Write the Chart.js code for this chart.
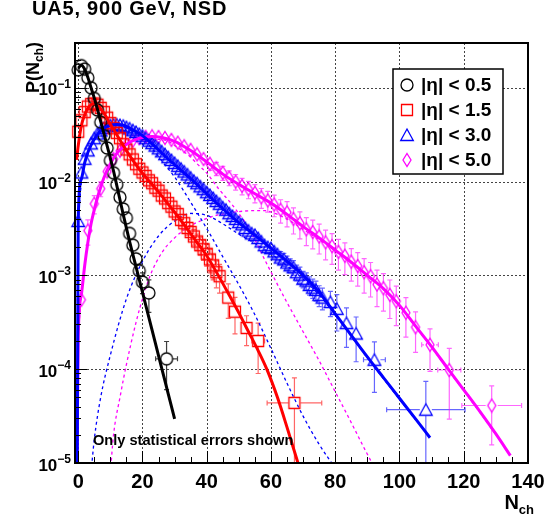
<!DOCTYPE html>
<html>
<head>
<meta charset="utf-8">
<title>UA5 900 GeV NSD multiplicity</title>
<script src="https://cdn.jsdelivr.net/npm/chart.js@4.4.1/dist/chart.umd.min.js"></script>
<style>
  html, body { margin: 0; padding: 0; background: #ffffff; }
  #nchChart { display: block; }
</style>
</head>
<body>
<canvas id="nchChart" width="556" height="516"></canvas>
<script>
// ---- axis ticks ----
const xTickValues = [0, 20, 40, 60, 80, 100, 120, 140];
const xTickLabels = ['0', '20', '40', '60', '80', '100', '120', '140'];
const yTickValues = [1e-5, 1e-4, 1e-3, 1e-2, 1e-1];
const yTickExponents = ['\u22125', '\u22124', '\u22123', '\u22122', '\u22121'];
const seriesLabels = ['|\u03b7| < 0.5', '|\u03b7| < 1.5', '|\u03b7| < 3.0', '|\u03b7| < 5.0'];

// ---- data points (N_ch, P, relative stat. error, half bin width) ----
const blackN = [0, 1, 2, 3, 4, 5, 6, 7, 8, 9, 10, 11, 12, 13, 14, 15, 16, 17, 18, 19, 20, 22, 27.5];
const blackP = [0.155, 0.172, 0.158, 0.128, 0.100, 0.077, 0.058, 0.043, 0.031, 0.0228, 0.0168, 0.0124, 0.0093,
  0.0068, 0.0051, 0.0041, 0.0028, 0.0021, 0.0015, 0.00112, 0.00085, 0.00065, 0.000129];
const blackRelErr = [0.01, 0.01, 0.01, 0.01, 0.01, 0.015, 0.015, 0.02, 0.02, 0.025, 0.03, 0.035, 0.04,
  0.05, 0.06, 0.07, 0.09, 0.11, 0.14, 0.17, 0.25, 0.38, 0.53];
const blackXErr = [0.5, 0.5, 0.5, 0.5, 0.5, 0.5, 0.5, 0.5, 0.5, 0.5, 0.5, 0.5, 0.5, 0.5, 0.5, 0.5, 0.5, 0.5,
  0.5, 0.5, 0.5, 1, 3.4];

const redN = [0, 1, 2, 3, 4, 5, 6, 7, 8, 9, 10, 11, 12, 13, 14, 15, 16, 17, 18, 19, 20, 21, 22, 23, 24, 25,
  26, 27, 28, 29, 30, 31, 32, 33, 34, 35, 36, 37, 38, 39, 40, 41, 42, 43, 44, 46.7, 48.8, 52.4, 56, 67.3];
const redP = [0.034, 0.045, 0.055, 0.063, 0.067, 0.068, 0.066, 0.061, 0.055, 0.048,
  0.042, 0.037, 0.033, 0.029, 0.025, 0.022, 0.0195, 0.0172, 0.0153, 0.0137,
  0.0125, 0.0115, 0.0103, 0.0096, 0.0086, 0.0080, 0.0071, 0.0066, 0.0059, 0.0054,
  0.0048, 0.0045, 0.0039, 0.0036, 0.0032, 0.0029, 0.0026, 0.0023, 0.0021, 0.0019,
  0.0017, 0.00148, 0.00128, 0.00108, 0.00098, 0.00058, 0.00041, 0.000275, 0.0002, 0.0000437];
const redRelErr = [0.015, 0.015, 0.015, 0.015, 0.015, 0.015, 0.015, 0.015, 0.015, 0.015,
  0.02, 0.02, 0.02, 0.025, 0.025, 0.03, 0.03, 0.035, 0.04, 0.045,
  0.05, 0.055, 0.06, 0.065, 0.07, 0.08, 0.085, 0.09, 0.1, 0.11,
  0.12, 0.13, 0.14, 0.15, 0.16, 0.17, 0.19, 0.2, 0.22, 0.24,
  0.26, 0.28, 0.3, 0.32, 0.34, 0.4, 0.42, 0.35, 0.55, 0.85];
const redXErr = [0.5, 0.5, 0.5, 0.5, 0.5, 0.5, 0.5, 0.5, 0.5, 0.5, 0.5, 0.5, 0.5, 0.5, 0.5, 0.5, 0.5, 0.5,
  0.5, 0.5, 0.5, 0.5, 0.5, 0.5, 0.5, 0.5, 0.5, 0.5, 0.5, 0.5, 0.5, 0.5, 0.5, 0.5, 0.5, 0.5, 0.5, 0.5, 0.5,
  0.5, 0.5, 0.5, 0.5, 0.5, 0.5, 1, 1, 1.8, 2, 8.5];

const blueN = [0, 1, 2, 3, 4, 5, 6, 7, 8, 9, 10, 11, 12, 13, 14, 15, 16, 17, 18, 19, 20, 21, 22, 23, 24, 25,
  26, 27, 28, 29, 30, 31, 32, 33, 34, 35, 36, 37, 38, 39, 40, 41, 42, 43, 44, 45, 46, 47, 48, 49, 50, 51,
  52, 53, 54, 55, 56, 57, 58, 59, 60, 61, 62, 63, 64, 65, 66, 67, 68, 69, 70, 71, 72, 73, 74, 75, 76,
  78.5, 80.5, 83.5, 86.5, 92.2, 108.2];
const blueP = [0.0038, 0.0125, 0.0175, 0.0215, 0.0255, 0.0290, 0.0325, 0.0350, 0.0372, 0.0388,
  0.0398, 0.0405, 0.0405, 0.0400, 0.0393, 0.0380, 0.0368, 0.0352, 0.0338, 0.0322,
  0.0308, 0.0290, 0.0273, 0.0257, 0.0242, 0.0226, 0.0210, 0.0196, 0.0182, 0.0170,
  0.0158, 0.0147, 0.0137, 0.0128, 0.0119, 0.0110, 0.0102, 0.0096, 0.0089, 0.0083,
  0.0077, 0.0072, 0.0067, 0.0062, 0.0058, 0.0053, 0.0050, 0.0046, 0.0043, 0.0040,
  0.0037, 0.0035, 0.0032, 0.0030, 0.0028, 0.0027, 0.0025, 0.0023, 0.0021, 0.0020,
  0.00195, 0.0018, 0.00168, 0.00155, 0.00148, 0.00137, 0.00128, 0.00122, 0.00108, 0.00102,
  0.00092, 0.00088, 0.00079, 0.00074, 0.00070, 0.00062, 0.00058,
  0.00052, 0.00044, 0.00031, 0.00024, 0.000126, 0.000037];
const blueRelErr = [0.05, 0.03, 0.02, 0.02, 0.02, 0.02, 0.02, 0.02, 0.02, 0.02,
  0.02, 0.02, 0.02, 0.02, 0.02, 0.02, 0.02, 0.02, 0.02, 0.02,
  0.025, 0.025, 0.025, 0.03, 0.03, 0.03, 0.03, 0.035, 0.035, 0.035,
  0.04, 0.04, 0.04, 0.045, 0.045, 0.045, 0.05, 0.05, 0.05, 0.055,
  0.055, 0.06, 0.06, 0.065, 0.065, 0.07, 0.075, 0.08, 0.085, 0.09,
  0.09, 0.1, 0.1, 0.11, 0.11, 0.12, 0.12, 0.13, 0.13, 0.14,
  0.14, 0.15, 0.15, 0.16, 0.16, 0.17, 0.17, 0.18, 0.19, 0.2,
  0.2, 0.21, 0.22, 0.23, 0.24, 0.25, 0.26,
  0.3, 0.42, 0.45, 0.5, 0.55, 1.0];
const blueXErr = [0.5, 0.5, 0.5, 0.5, 0.5, 0.5, 0.5, 0.5, 0.5, 0.5, 0.5, 0.5, 0.5, 0.5, 0.5, 0.5, 0.5, 0.5,
  0.5, 0.5, 0.5, 0.5, 0.5, 0.5, 0.5, 0.5, 0.5, 0.5, 0.5, 0.5, 0.5, 0.5, 0.5, 0.5, 0.5, 0.5, 0.5, 0.5, 0.5,
  0.5, 0.5, 0.5, 0.5, 0.5, 0.5, 0.5, 0.5, 0.5, 0.5, 0.5, 0.5, 0.5, 0.5, 0.5, 0.5, 0.5, 0.5, 0.5, 0.5, 0.5,
  0.5, 0.5, 0.5, 0.5, 0.5, 0.5, 0.5, 0.5, 0.5, 0.5, 0.5, 0.5, 0.5, 0.5, 0.5, 0.5, 0.5,
  1, 1, 1.5, 1.5, 3.4, 12.2];

const magentaN = [1, 3, 5, 7, 9, 11, 13, 15, 17, 19, 21, 23, 25, 27, 29, 31, 33, 35, 37, 39, 41, 43, 45, 47,
  49, 51, 53, 55, 57, 59, 61, 63, 65, 67, 69, 71, 73, 75, 77, 79, 81, 83, 85, 87, 89, 91, 93, 95, 97, 99,
  102, 105, 109.5, 115.5, 128.7];
const magentaP = [0.00055, 0.0030, 0.0058, 0.0084, 0.0128, 0.0174, 0.0213, 0.0247, 0.0273, 0.0290,
  0.0300, 0.0304, 0.0299, 0.0292, 0.0278, 0.0260, 0.0238, 0.0218, 0.0195, 0.0174,
  0.0155, 0.0138, 0.0124, 0.0110, 0.0100, 0.0090, 0.0083, 0.0076, 0.0068, 0.0063,
  0.0057, 0.0050, 0.0047, 0.0040, 0.0036, 0.0031, 0.0029, 0.0026, 0.00225, 0.00205,
  0.00178, 0.00162, 0.00140, 0.00126, 0.00108, 0.00098, 0.00080, 0.00073, 0.00062, 0.00053,
  0.00040, 0.00028, 0.000182, 0.000098, 0.000041];
const magentaRelErr = [0.08, 0.3, 0.22, 0.18, 0.12, 0.1, 0.08, 0.07, 0.06, 0.06,
  0.06, 0.06, 0.06, 0.07, 0.08, 0.09, 0.1, 0.11, 0.12, 0.13,
  0.15, 0.16, 0.17, 0.18, 0.19, 0.2, 0.21, 0.22, 0.24, 0.25,
  0.26, 0.28, 0.3, 0.31, 0.32, 0.33, 0.34, 0.35, 0.35, 0.36,
  0.36, 0.37, 0.38, 0.39, 0.4, 0.4, 0.42, 0.43, 0.44, 0.45,
  0.45, 0.46, 0.48, 0.7, 0.62];
const magentaXErr = [1, 1, 1, 1, 1, 1, 1, 1, 1, 1, 1, 1, 1, 1, 1, 1, 1, 1, 1, 1, 1, 1, 1, 1, 1,
  1, 1, 1, 1, 1, 1, 1, 1, 1, 1, 1, 1, 1, 1, 1, 1, 1, 1, 1, 1, 1, 1, 1, 1, 1,
  1.5, 1.5, 2.6, 3.6, 9.3];

// ---- fitted curves (solid) ----
const blackFitN = [0, 1, 2, 3, 4, 5, 6, 7, 8, 9, 10, 11, 12, 14, 16, 18, 20, 22, 24, 26, 28, 30];
const blackFitP = [0.162, 0.174, 0.158, 0.129, 0.100, 0.0776, 0.0589, 0.0437, 0.0324, 0.0240, 0.0178,
  0.0129, 0.00912, 0.00447, 0.00229, 0.00123, 0.000661, 0.000355, 0.000191, 0.000102, 0.0000550, 0.0000295];

const redFitN = [-0.5, 0, 1, 2, 3, 4, 5, 6, 8, 10, 12, 15, 18, 20, 22, 25, 28, 31, 34, 37, 40, 43.6, 47,
  50, 53, 56, 58.7, 62, 65, 68.4, 69.5];
const redFitP = [0.0170, 0.0240, 0.0398, 0.0513, 0.0603, 0.0661, 0.0676, 0.0646, 0.0537, 0.0407, 0.0316,
  0.0214, 0.0151, 0.0123, 0.0102, 0.00776, 0.00575, 0.00427, 0.00309, 0.00224, 0.00162, 0.00100,
  0.000617, 0.000398, 0.000251, 0.000158, 0.000100, 0.0000501, 0.0000240, 0.0000100, 0.0000074];

const blueFitN = [-0.3, 0, 1, 2, 3, 4, 5, 6, 7, 8, 10, 12, 14, 16, 18, 20, 24, 28, 32, 36, 40, 45, 50, 55,
  60, 65, 70, 75, 80, 85, 90, 95, 100, 105, 109.5];
const blueFitP = [0.000008, 0.00398, 0.0107, 0.0158, 0.0204, 0.0245, 0.0282, 0.0316, 0.0347, 0.0372, 0.0398,
  0.0407, 0.0398, 0.0372, 0.0339, 0.0309, 0.0234, 0.0174, 0.0132, 0.0100, 0.00741, 0.00513, 0.00363,
  0.00269, 0.00195, 0.00141, 0.00100, 0.000661, 0.000389, 0.000229, 0.000135, 0.0000813, 0.0000490,
  0.0000295, 0.0000186];

const magentaFitN = [-0.4, 0, 1, 2, 3, 4, 5, 6, 7, 8, 10, 12, 14, 16, 18, 20, 23, 26, 30, 35, 40, 45, 50,
  55, 60, 65, 70, 75, 80, 85, 90, 95, 100, 105, 110, 115, 120, 125, 130, 134.5];
const magentaFitP = [0.000008, 0.000224, 0.000631, 0.00126, 0.00224, 0.00355, 0.00501, 0.00676, 0.00871,
  0.0110, 0.0155, 0.0200, 0.0234, 0.0263, 0.0282, 0.0295, 0.0302, 0.0295, 0.0269, 0.0214, 0.0162, 0.0120,
  0.00933, 0.00741, 0.00589, 0.00447, 0.00331, 0.00251, 0.00186, 0.00138, 0.00100, 0.000724, 0.000479,
  0.000288, 0.000174, 0.000102, 0.0000603, 0.0000355, 0.0000204, 0.0000120];

// ---- two-component pieces (dashed) ----
const blueSoftN = [0, 1, 2, 3, 4, 6, 8, 10, 12, 14, 16, 18, 20, 22, 24, 26.5, 30, 35, 40, 45, 50, 55, 60,
  65, 70, 75, 81];
const blueSoftP = [0.0038, 0.0100, 0.0151, 0.0195, 0.0234, 0.0309, 0.0363, 0.0389, 0.0398, 0.0389, 0.0355,
  0.0324, 0.0288, 0.0245, 0.0204, 0.0158, 0.0112, 0.00603, 0.00316, 0.00158, 0.000794, 0.000380,
  0.000166, 0.0000708, 0.0000316, 0.0000158, 0.0000079];
const blueHardN = [4, 5, 7, 10, 15, 20, 25, 30, 35, 40, 45, 50, 55, 60, 65, 70, 75, 80, 85, 90, 95, 100, 105];
const blueHardP = [0.0000079, 0.0000178, 0.0000501, 0.000141, 0.000562, 0.00141, 0.00263, 0.00380, 0.00457,
  0.00437, 0.00355, 0.00275, 0.00219, 0.00170, 0.00126, 0.000912, 0.000617, 0.000380, 0.000224,
  0.000132, 0.0000794, 0.0000479, 0.0000288];

const magentaSoftN = [0, 1, 2, 3, 4, 5, 6, 7, 8, 10, 12, 14, 16, 18, 20, 22, 25, 28, 31, 34, 37, 40, 44,
  48, 53.5, 58, 60.7, 65, 70, 75, 80, 85, 88.7, 93];
const magentaSoftP = [0.000224, 0.000631, 0.00126, 0.00224, 0.00355, 0.00501, 0.00676, 0.00871, 0.0110,
  0.0155, 0.0200, 0.0234, 0.0263, 0.0275, 0.0282, 0.0282, 0.0282, 0.0269, 0.0229, 0.0195, 0.0155, 0.0123,
  0.00813, 0.00562, 0.00302, 0.00148, 0.000977, 0.000513, 0.000251, 0.000123, 0.0000575, 0.0000269,
  0.0000151, 0.0000079];
const magentaHardN = [10, 11, 13, 15, 18, 20, 22.3, 26, 30, 34, 38, 42, 46, 50, 55, 58, 62, 66, 70, 75, 80,
  85, 90, 95, 100, 105, 110, 115, 120, 125, 130];
const magentaHardP = [0.0000079, 0.0000200, 0.0000501, 0.000112, 0.000316, 0.000562, 0.000977, 0.00174,
  0.00251, 0.00324, 0.00380, 0.00427, 0.00457, 0.00479, 0.00490, 0.00490, 0.00447, 0.00380, 0.00309,
  0.00240, 0.00182, 0.00135, 0.000977, 0.000708, 0.000468, 0.000282, 0.000170, 0.000100, 0.0000589,
  0.0000347, 0.0000200];

// ---- styling ----
const FONT = '"Liberation Sans", Arial, Helvetica, sans-serif';
const colBlack = '#000000', colRed = '#ff0000', colBlue = '#0000ff', colMagenta = '#ff00ff';

function makeMarker(kind, color) {
  const c = document.createElement('canvas');
  c.width = 16; c.height = 16;
  const g = c.getContext('2d');
  g.strokeStyle = color;
  g.lineWidth = 1.3;
  g.beginPath();
  if (kind === 'circle') g.arc(8, 8, 6, 0, Math.PI * 2);
  else if (kind === 'square') g.rect(2.5, 2.5, 11, 11);
  else if (kind === 'triangle') { g.moveTo(8, 2); g.lineTo(14.3, 13.5); g.lineTo(1.7, 13.5); g.closePath(); }
  else { g.moveTo(8, 1.5); g.lineTo(12, 8); g.lineTo(8, 14.5); g.lineTo(4, 8); g.closePath(); }
  g.stroke();
  return c;
}
const markers = [
  makeMarker('circle', colBlack), makeMarker('square', colRed),
  makeMarker('triangle', colBlue), makeMarker('diamond', colMagenta)
];

const toPts = (xs, ys) => xs.map((x, i) => ({ x: x, y: ys[i] }));

function pointSet(label, xs, ys, rel, xe, marker, errColor) {
  return {
    label: label, data: toPts(xs, ys), relErr: rel, xErr: xe, errColor: errColor,
    pointStyle: marker, pointRadius: 6, pointHoverRadius: 6, showLine: false,
    order: 1, clip: false
  };
}
function curveSet(xs, ys, color, width, dash, order) {
  return {
    type: 'line', data: toPts(xs, ys), borderColor: color, borderWidth: width, borderDash: dash,
    pointRadius: 0, fill: false, cubicInterpolationMode: 'monotone', order: order, clip: 0
  };
}

// dotted grid, drawn before everything else on the chart
const gridLines = {
  id: 'gridLines',
  beforeDraw(chart) {
    const { ctx, chartArea: a, scales: { x, y } } = chart;
    ctx.save();
    ctx.strokeStyle = '#444';
    ctx.lineWidth = 1;
    ctx.setLineDash([2, 2]);
    xTickValues.forEach(v => {
      const px = Math.round(x.getPixelForValue(v)) + 0.5;
      ctx.beginPath();
      ctx.moveTo(px, a.top);
      ctx.lineTo(px, a.bottom);
      ctx.stroke();
    });
    yTickValues.forEach(v => {
      const py = Math.round(y.getPixelForValue(v)) + 0.5;
      ctx.beginPath();
      ctx.moveTo(a.left, py);
      ctx.lineTo(a.right, py);
      ctx.stroke();
    });
    ctx.restore();
  }
};

// error bars, drawn under the markers
const errorBars = {
  id: 'errorBars',
  beforeDatasetsDraw(chart) {
    const { ctx, chartArea: a, scales: { x, y } } = chart;
    ctx.save();
    ctx.beginPath();
    ctx.rect(a.left, a.top, a.right - a.left, a.bottom - a.top);
    ctx.clip();
    ctx.lineWidth = 1.2;
    const gap = 6, cap = 2.5;
    chart.data.datasets.forEach(ds => {
      if (!ds.relErr) return;
      ctx.strokeStyle = ds.errColor;
      ds.data.forEach((p, i) => {
        const px = x.getPixelForValue(p.x), py = y.getPixelForValue(p.y);
        const e = p.y * ds.relErr[i];
        const top = y.getPixelForValue(p.y + e);
        const bot = y.getPixelForValue(Math.max(p.y - e, 1e-9));
        const xl = x.getPixelForValue(p.x - ds.xErr[i]), xr = x.getPixelForValue(p.x + ds.xErr[i]);
        ctx.beginPath();
        if (py - top > gap) {
          ctx.moveTo(px, py - gap); ctx.lineTo(px, top);
          ctx.moveTo(px - cap, top); ctx.lineTo(px + cap, top);
        }
        if (bot - py > gap) {
          ctx.moveTo(px, py + gap); ctx.lineTo(px, bot);
          ctx.moveTo(px - cap, bot); ctx.lineTo(px + cap, bot);
        }
        if (px - xl > gap) {
          ctx.moveTo(px - gap, py); ctx.lineTo(xl, py);
          ctx.moveTo(xl, py - cap); ctx.lineTo(xl, py + cap);
          ctx.moveTo(px + gap, py); ctx.lineTo(xr, py);
          ctx.moveTo(xr, py - cap); ctx.lineTo(xr, py + cap);
        }
        ctx.stroke();
      });
    });
    ctx.restore();
  }
};

// frame, ticks, labels, titles, legend
const decorations = {
  id: 'decorations',
  afterDraw(chart) {
    const { ctx, chartArea: a, scales: { x, y } } = chart;
    ctx.save();
    ctx.strokeStyle = '#000';
    ctx.lineWidth = 1;
    ctx.beginPath();
    // x ticks: minor every 5, major every 20
    for (let v = 0; v <= 140; v += 5) {
      const px = Math.round(x.getPixelForValue(v)) + 0.5;
      const len = v % 20 === 0 ? 12 : 6;
      ctx.moveTo(px, a.bottom); ctx.lineTo(px, a.bottom - len);
    }
    // y ticks: decades + 2..9 minor
    yTickValues.forEach(d => {
      for (let m = 1; m <= 9; m++) {
        const v = d * m;
        if (v > y.max) break;
        const py = Math.round(y.getPixelForValue(v)) + 0.5;
        ctx.moveTo(a.left, py); ctx.lineTo(a.left + (m === 1 ? 12 : 6), py);
      }
    });
    ctx.stroke();
    ctx.lineWidth = 2;
    ctx.strokeRect(a.left, a.top, a.right - a.left, a.bottom - a.top);

    ctx.fillStyle = '#000';
    // x labels
    ctx.font = 'bold 20px ' + FONT;
    ctx.textAlign = 'center';
    ctx.textBaseline = 'alphabetic';
    xTickValues.forEach((v, i) => ctx.fillText(xTickLabels[i], x.getPixelForValue(v), 488));
    // y labels 10^k
    yTickValues.forEach((v, i) => {
      const py = y.getPixelForValue(v);
      ctx.font = 'bold 12px ' + FONT;
      const sw = ctx.measureText(yTickExponents[i]).width;
      ctx.textAlign = 'left';
      ctx.fillText(yTickExponents[i], a.left - 4 - sw, py);
      ctx.font = 'bold 17px ' + FONT;
      const bw = ctx.measureText('10').width;
      ctx.fillText('10', a.left - 4 - sw - bw, py + 7.5);
    });
    // axis titles
    ctx.textAlign = 'right';
    ctx.font = 'bold 13px ' + FONT;
    ctx.fillText('ch', 534, 514);
    const chW = ctx.measureText('ch').width;
    ctx.font = 'bold 20px ' + FONT;
    ctx.fillText('N', 534 - chW, 509);

    ctx.save();
    ctx.translate(39, 42);
    ctx.rotate(-Math.PI / 2);
    ctx.textAlign = 'right';
    ctx.font = 'bold 18px ' + FONT;
    ctx.fillText(')', 0, 0);
    const pw = ctx.measureText(')').width;
    ctx.font = 'bold 12px ' + FONT;
    ctx.fillText('ch', -pw, 4);
    const cw = ctx.measureText('ch').width;
    ctx.font = 'bold 18px ' + FONT;
    ctx.fillText('P(N', -pw - cw, 0);
    ctx.restore();

    // title
    ctx.textAlign = 'left';
    ctx.font = 'bold 20px ' + FONT;
    ctx.letterSpacing = '0.8px';
    ctx.fillText('UA5, 900 GeV, NSD', 32, 15);
    ctx.letterSpacing = '0px';

    // note
    ctx.font = 'bold 14.6px ' + FONT;
    ctx.fillText('Only statistical errors shown', 93, 445);

    // legend
    ctx.fillStyle = '#fff';
    ctx.fillRect(393, 69, 110, 105);
    ctx.lineWidth = 1.5;
    ctx.strokeRect(393, 69, 110, 105);
    ctx.fillStyle = '#000';
    ctx.font = 'bold 19px ' + FONT;
    ctx.textAlign = 'left';
    ctx.textBaseline = 'middle';
    seriesLabels.forEach((lab, i) => {
      const cy = 85 + i * 25;
      ctx.drawImage(markers[i], 407 - 8, cy - 8);
      ctx.fillText(lab, 421, cy + 1);
    });
    ctx.restore();
  }
};

Chart.defaults.font.family = FONT;

new Chart(document.getElementById('nchChart'), {
  type: 'scatter',
  data: {
    datasets: [
      curveSet(blackFitN, blackFitP, colBlack, 3, [], 0),
      curveSet(redFitN, redFitP, colRed, 3, [], 0),
      curveSet(blueFitN, blueFitP, colBlue, 3, [], 0),
      curveSet(magentaFitN, magentaFitP, colMagenta, 3, [], 0),
      pointSet(seriesLabels[0], blackN, blackP, blackRelErr, blackXErr, markers[0], 'rgba(0,0,0,0.75)'),
      pointSet(seriesLabels[1], redN, redP, redRelErr, redXErr, markers[1], 'rgba(255,0,0,0.6)'),
      pointSet(seriesLabels[2], blueN, blueP, blueRelErr, blueXErr, markers[2], 'rgba(0,0,255,0.6)'),
      pointSet(seriesLabels[3], magentaN, magentaP, magentaRelErr, magentaXErr, markers[3], 'rgba(255,0,255,0.6)'),
      curveSet(blueSoftN, blueSoftP, colBlue, 1.3, [3, 3], 2),
      curveSet(blueHardN, blueHardP, colBlue, 1.3, [3, 3], 2),
      curveSet(magentaSoftN, magentaSoftP, colMagenta, 1.3, [3, 3], 2),
      curveSet(magentaHardN, magentaHardP, colMagenta, 1.3, [3, 3], 2)
    ]
  },
  options: {
    responsive: false,
    animation: false,
    devicePixelRatio: 1,
    layout: { padding: { left: 75, right: 28, top: 43, bottom: 53 } },
    plugins: { legend: { display: false }, title: { display: false }, tooltip: { enabled: false } },
    scales: {
      x: {
        type: 'linear', min: -1, max: 140,
        afterBuildTicks: s => { s.ticks = xTickValues.map(v => ({ value: v })); },
        ticks: { display: false },
        grid: { display: false, drawTicks: false },
        border: { display: false }
      },
      y: {
        type: 'logarithmic', min: 1e-5, max: 0.3,
        afterBuildTicks: s => { s.ticks = yTickValues.map(v => ({ value: v })); },
        ticks: { display: false },
        grid: { display: false, drawTicks: false },
        border: { display: false }
      }
    }
  },
  plugins: [gridLines, errorBars, decorations]
});
</script>
</body>
</html>
